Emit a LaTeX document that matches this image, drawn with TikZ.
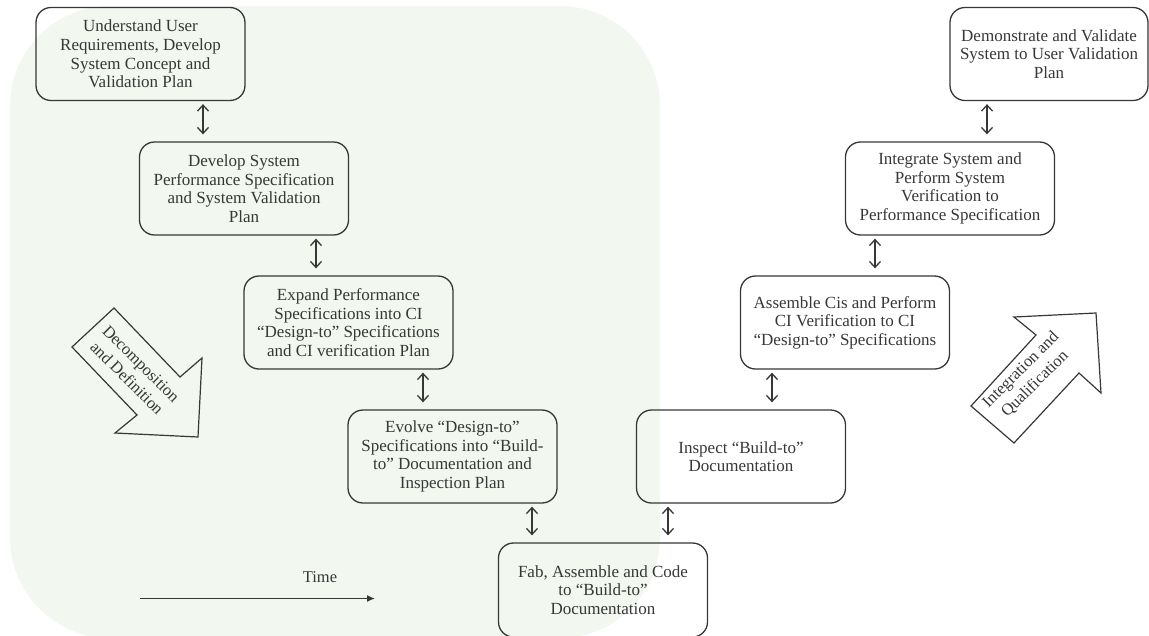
\documentclass[tikz,border=0pt]{standalone}
\usepackage{fontspec}
\setmainfont{Liberation Serif}
\usetikzlibrary{arrows.meta}
\definecolor{bggreen}{RGB}{242,247,239}
\definecolor{ink}{RGB}{55,55,55}
\tikzset{
  stepbox/.style={draw=ink, line width=1.3pt, rounded corners=15pt, text=ink,
    minimum width=209pt, minimum height=93pt, inner xsep=2pt,
    inner ysep=0pt, align=center, font=\fontsize{17}{18.6}\selectfont},
  dbl/.style={draw=ink, line width=1.3pt, {Straight Barb[length=6pt,width=11pt,line width=1.3pt]}-{Straight Barb[length=6pt,width=11pt,line width=1.3pt]},
    shorten <=3pt, shorten >=7pt},
  blockarrow/.style={draw=ink, line width=1.2pt, line join=miter},
  lbl/.style={text=ink, align=center, font=\fontsize{16.5}{20}\selectfont}
}
\begin{document}
\begin{tikzpicture}[x=1pt,y=-1pt]
\useasboundingbox (0,0) rectangle (1149,635);
\clip (0,0) rectangle (1149,635);
% background region
\fill[bggreen, rounded corners=100pt] (10,6) rectangle (660,638);
% boxes
\node[stepbox] (b1) at (140.5,54) {Understand User\\Requirements, Develop\\System Concept and\\Validation Plan};
\node[stepbox] (b2) at (244,188.5) {Develop System\\Performance Specification\\and System Validation\\Plan};
\node[stepbox] (b3) at (348.5,322.5) {Expand Performance\\Specifications into CI\\“Design-to” Specifications\\and CI verification Plan};
\node[stepbox] (b4) at (452.5,456.5) {Evolve “Design-to”\\Specifications into “Build-\\to” Documentation and\\Inspection Plan};
\node[stepbox, minimum height=94pt] (b5) at (603,590) {Fab, Assemble and Code\\to “Build-to”\\Documentation};
\node[stepbox] (b6) at (741,456.5) {Inspect “Build-to”\\Documentation};
\node[stepbox] (b7) at (845,322.5) {Assemble Cis and Perform\\CI Verification to CI\\“Design-to” Specifications};
\node[stepbox] (b8) at (950,188.5) {Integrate System and\\Perform System\\Verification to\\Performance Specification};
\node[stepbox, minimum width=198pt] (b9) at (1049,54) {Demonstrate and Validate\\System to User Validation\\Plan};
% connectors
\draw[dbl] (b1.south -| 203,0) -- (b2.north -| 203,0);
\draw[dbl] (b2.south -| 316,0) -- (b3.north -| 316,0);
\draw[dbl] (b3.south -| 423,0) -- (b4.north -| 423,0);
\draw[dbl] (b4.south -| 532,0) -- (b5.north -| 532,0);
\draw[dbl] (b6.south -| 668,0) -- (b5.north -| 668,0);
\draw[dbl] (b7.south -| 772,0) -- (b6.north -| 772,0);
\draw[dbl] (b8.south -| 875,0) -- (b7.north -| 875,0);
\draw[dbl] (b9.south -| 987,0) -- (b8.north -| 987,0);
% block arrows
\draw[blockarrow] (114,308) -- (180,377) -- (202,358) -- (198,437) -- (115,433) -- (137,415) -- (72,347) -- cycle;
\node[lbl, rotate=-45] (decomp) at (134,371) {Decomposition\\and Definition};
\draw[blockarrow] (971,406) -- (1036,335) -- (1014,317) -- (1096,313) -- (1101,393) -- (1079,373) -- (1014,443) -- cycle;
\node[lbl, rotate=45] (integ) at (1028,377) {Integration and\\Qualification};
% time arrow
\node[lbl] (time) at (320,577) {Time};
\coordinate (t0) at (140,598.5);
\coordinate (t1) at (375,598.5);
\draw[draw=ink, line width=1.4pt, -{Latex[length=8pt,width=7pt]}] (t0) -- (t1);
\end{tikzpicture}
\end{document}
